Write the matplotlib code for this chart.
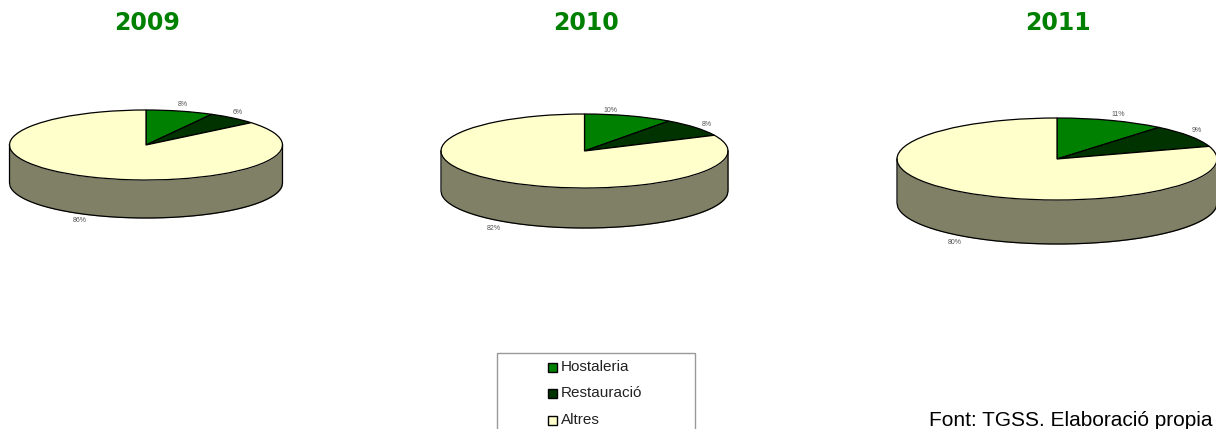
import numpy as np
import matplotlib
matplotlib.use('Agg')
import matplotlib.pyplot as plt
from matplotlib.patches import Rectangle

W, H = 1216, 429

# the data
years = ['2009', '2010', '2011']
categories = ['Hostaleria', 'Restauració', 'Altres']
shares_2009 = [8, 6, 86]
shares_2010 = [10, 8, 82]
shares_2011 = [11, 9, 80]
colors = ['#008000', '#003300', '#FFFFCC']
wall_color = '#808066'

# pie geometry in pixels: centre x, centre y, x radius, y radius, wall height
geom = [(146, 145, 136.5, 35, 38),
        (584.5, 151, 143.5, 37, 40),
        (1057, 159, 160, 41, 44)]
# pixel position of the small labels
label_pos = [[(183, 105), (238, 112), (80, 221)],
             [(610, 110), (707, 125), (494, 229)],
             [(1118, 114), (1197, 131), (955, 243)]]
title_x = [147, 586, 1058]

fig = plt.figure(figsize=(W / 100, H / 100), dpi=100)
bg = fig.add_axes([0, 0, 1, 1])
bg.set_xlim(0, W)
bg.set_ylim(H, 0)
bg.axis('off')

for i, shares in enumerate([shares_2009, shares_2010, shares_2011]):
    cx, cy, rx, ry, depth = geom[i]
    # axes box holds the top ellipse plus the wall below it
    ax = fig.add_axes([(cx - rx) / W, 1 - (cy + ry + depth) / H,
                       2 * rx / W, (2 * ry + depth) / H])
    d = depth / ry
    xs = np.linspace(-1, 1, 400)
    rim = np.sqrt(1 - xs ** 2)
    ax.fill_between(xs, -rim - d, -rim, color=wall_color, lw=0, clip_on=False)
    # wall outline as one line so the corners stay clean
    ax.plot(np.r_[-1, xs, 1], np.r_[0, -rim - d, 0], color='black', lw=0.9,
            clip_on=False, solid_joinstyle='round')
    ax.pie(shares, colors=colors, startangle=90, counterclock=False, radius=1,
           wedgeprops=dict(edgecolor='black', linewidth=0.9))
    ax.set_aspect('auto')
    ax.set_xlim(-1, 1)
    ax.set_ylim(-1 - d, 1)
    ax.axis('off')

    bg.text(title_x[i], 23, years[i], color='#008000', fontsize=17,
            fontweight='bold', ha='center', va='center', family='DejaVu Sans')
    for (lx, ly), v in zip(label_pos[i], shares):
        bg.text(lx, ly, f'{v}%', fontsize=5, color='#555555', ha='center',
                va='center', family='Liberation Sans')

# legend box runs off the bottom of the picture
bg.add_patch(Rectangle((497, 353), 198, 90, facecolor='white',
                       edgecolor='#999999', lw=1, clip_on=True))
leg_y = [367, 393, 420]
for name, col, y in zip(categories, colors, leg_y):
    bg.add_patch(Rectangle((547.5, y - 4.5), 9, 9, facecolor=col, edgecolor='black', lw=1))
    bg.text(561, y, name, fontsize=11, color='#222222', va='center',
            family='Liberation Sans')

bg.text(929, 420, 'Font: TGSS. Elaboració propia', fontsize=15, color='black',
        va='center', family='Liberation Sans')

fig.savefig('out.png', dpi=100)
